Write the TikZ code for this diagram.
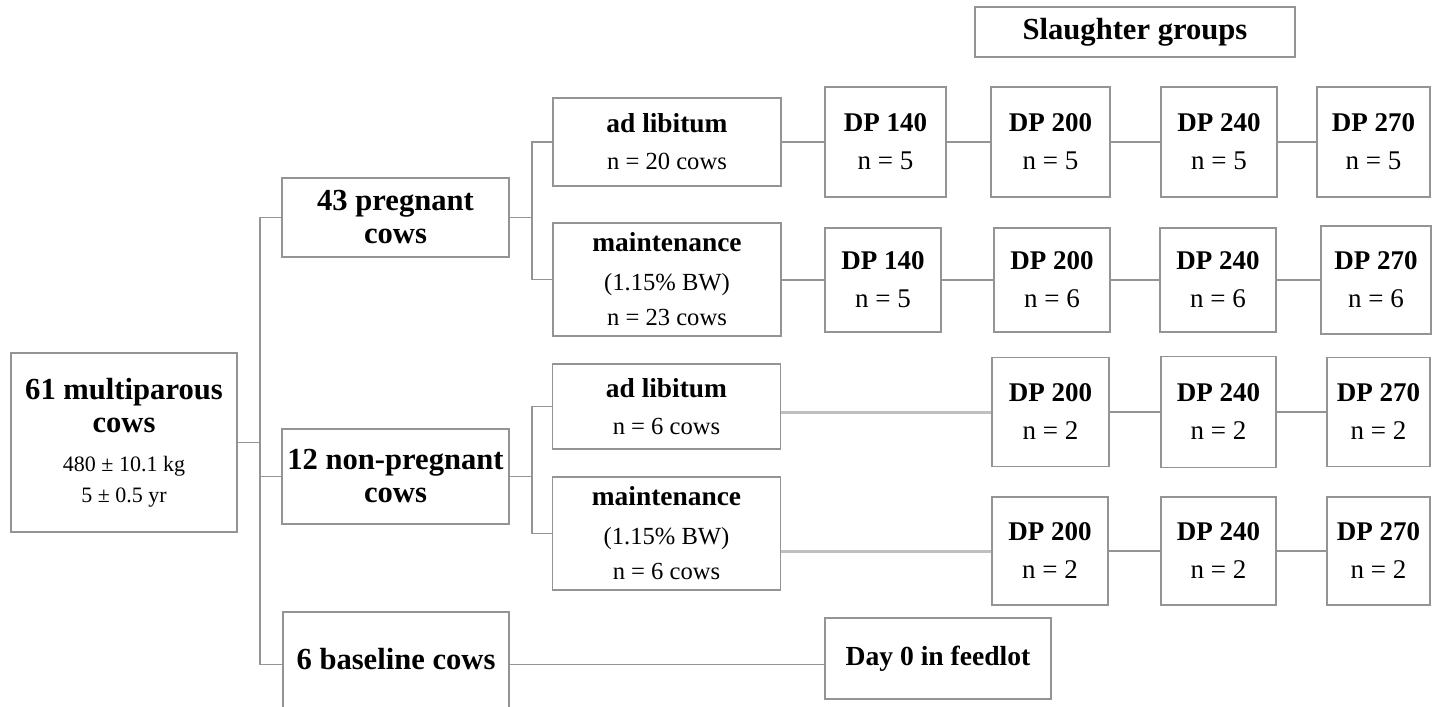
\documentclass[tikz,border=0pt]{standalone}
\usepackage{fontspec}
\setmainfont{Liberation Serif}
\usepackage{tikz}
\usetikzlibrary{calc}
\usetikzlibrary{positioning}

\begin{document}
\begin{tikzpicture}[
      x=0.5pt, y=-0.5pt,
      box/.style     ={rectangle, draw=black!42, line width=0.75pt, inner sep=0pt, align=center},
      herd/.style    ={box, font=\fontsize{15.3}{16.5}\selectfont\bfseries},
      diet/.style    ={box, minimum width=114pt, font=\fontsize{12.3}{18.5}\selectfont},
      group/.style   ={box, minimum width=58.5pt, minimum height=54pt, font=\fontsize{13.5}{19}\selectfont},
      link/.style    ={draw=black!42, line width=0.75pt},
      longlink/.style={draw=black!25, line width=1.5pt}
    ]
    \useasboundingbox (0,0) rectangle (1437,707);

    % herd and first split
    \node [herd, minimum width=113pt, minimum height=89.5pt] (root) at (124,442.5)
          {61 multiparous\\cows\\[3pt]{\fontsize{11}{15}\selectfont\mdseries 480 ± 10.1 kg}\\[-1pt]{\fontsize{11}{15}\selectfont\mdseries 5 ± 0.5 yr}} ;
    \node [herd, minimum width=113.5pt, minimum height=39.5pt] (preg) at (395.5,217.5) {43 pregnant\\cows} ;
    \node [herd, minimum width=113.5pt, minimum height=47.5pt] (nonpreg) at (395.5,476.5) {12 non-pregnant\\cows} ;
    \node [herd, minimum width=113pt, anchor=base, text height=28.5pt, text depth=26pt] (base) at (396,669) {6 baseline cows} ;

    % feeding levels
    \node [diet, minimum height=44pt] (adlp) at (667,142)
          {{\fontsize{13.7}{18.5}\selectfont\bfseries ad libitum}\\n = 20 cows} ;
    \node [diet, minimum height=56.5pt] (mp) at (667,279.5)
          {{\fontsize{13.7}{18.5}\selectfont\bfseries maintenance}\\[1pt](1.15\% BW)\\[-1pt]n = 23 cows} ;
    \node [diet, minimum height=42.5pt] (adlnp) at (666.5,406.5)
          {{\fontsize{13.7}{18.5}\selectfont\bfseries ad libitum}\\n = 6 cows} ;
    \node [diet, minimum height=56.5pt] (mnp) at (666.5,533.5)
          {{\fontsize{13.7}{18.5}\selectfont\bfseries maintenance}\\[1pt](1.15\% BW)\\[-1pt]n = 6 cows} ;

    % slaughter groups
    \node [box, minimum width=160pt, minimum height=25pt, font=\fontsize{15.3}{16}\selectfont\bfseries] (slaughter) at (1135,32) {Slaughter groups} ;

    \node [group, minimum width=60.5pt, minimum height=55pt] (dp140a) at (885.5,142) {{\bfseries DP 140}\\n = 5} ;
    \node [group, minimum width=59.5pt, minimum height=55pt] (dp200a) at (1050.5,142) {{\bfseries DP 200}\\n = 5} ;
    \node [group, minimum width=58pt, minimum height=55pt] (dp240a) at (1219,142) {{\bfseries DP 240}\\n = 5} ;
    \node [group, minimum width=56.5pt, minimum height=55pt] (dp270a) at (1373.5,142) {{\bfseries DP 270}\\n = 5} ;

    \node [group, minimum width=58pt, minimum height=52pt] (dp140b) at (883,280) {{\bfseries DP 140}\\n = 5} ;
    \node [group, minimum width=58pt, minimum height=52pt] (dp200b) at (1052,280) {{\bfseries DP 200}\\n = 6} ;
    \node [group, minimum width=58pt, minimum height=52pt] (dp240b) at (1218,280) {{\bfseries DP 240}\\n = 6} ;
    \node [group, minimum width=55pt] (dp270b) at (1376,280) {{\bfseries DP 270}\\n = 6} ;

    \node [group, minimum height=54.5pt] (dp200c) at (1050.5,412) {{\bfseries DP 200}\\n = 2} ;
    \node [group, minimum width=57.5pt, minimum height=55.5pt] (dp240c) at (1218.5,412) {{\bfseries DP 240}\\n = 2} ;
    \node [group, minimum width=51.5pt, minimum height=54.5pt] (dp270c) at (1378.5,412) {{\bfseries DP 270}\\n = 2} ;

    \node [group, minimum width=58pt] (dp200d) at (1050,551) {{\bfseries DP 200}\\n = 2} ;
    \node [group, minimum width=57.5pt] (dp240d) at (1218.5,551) {{\bfseries DP 240}\\n = 2} ;
    \node [group, minimum width=51.5pt] (dp270d) at (1378.5,551) {{\bfseries DP 270}\\n = 2} ;

    \node [box, minimum width=113pt, minimum height=40.5pt, font=\fontsize{13.8}{16}\selectfont\bfseries] (day0) at (938,658.5) {Day 0 in feedlot} ;

    % tree lines
    \coordinate (trunk) at (260,442.5) ;
    \coordinate (pbr)   at (532,217.5) ;
    \coordinate (npbr)  at (532,476.5) ;

    \draw [link] (root.east) -- (trunk) ;
    \draw [link] (preg.west) -| (trunk) |- (base.mid west) ;
    \draw [link] (nonpreg.west) -- (nonpreg.west -| trunk) ;
    \draw [link] (base.mid east) -- (base.mid east -| day0.west) ;

    \draw [link] (preg.east) -- (pbr) ;
    \draw [link] (adlp.west) -| (pbr) |- (mp.west) ;
    \draw [link] (nonpreg.east) -- (npbr) ;
    \draw [link] (adlnp.west) -| (npbr) |- (mnp.west) ;

    \draw [link] (adlp.east) -- (dp140a.west) ;
    \draw [link] (dp140a) -- (dp200a) -- (dp240a) -- (dp270a) ;
    \draw [link] (dp140b.west -| mp.east) -- (dp140b.west) ;
    \draw [link] (dp140b) -- (dp200b) -- (dp240b) -- (dp270b) ;

    \draw [longlink] (dp200c.west -| adlnp.east) -- (dp200c.west) ;
    \draw [link] (dp200c) -- (dp240c) -- (dp270c) ;
    \draw [longlink] (dp200d.west -| mnp.east) -- (dp200d.west) ;
    \draw [link] (dp200d) -- (dp240d) -- (dp270d) ;
  \end{tikzpicture}
\end{document}
